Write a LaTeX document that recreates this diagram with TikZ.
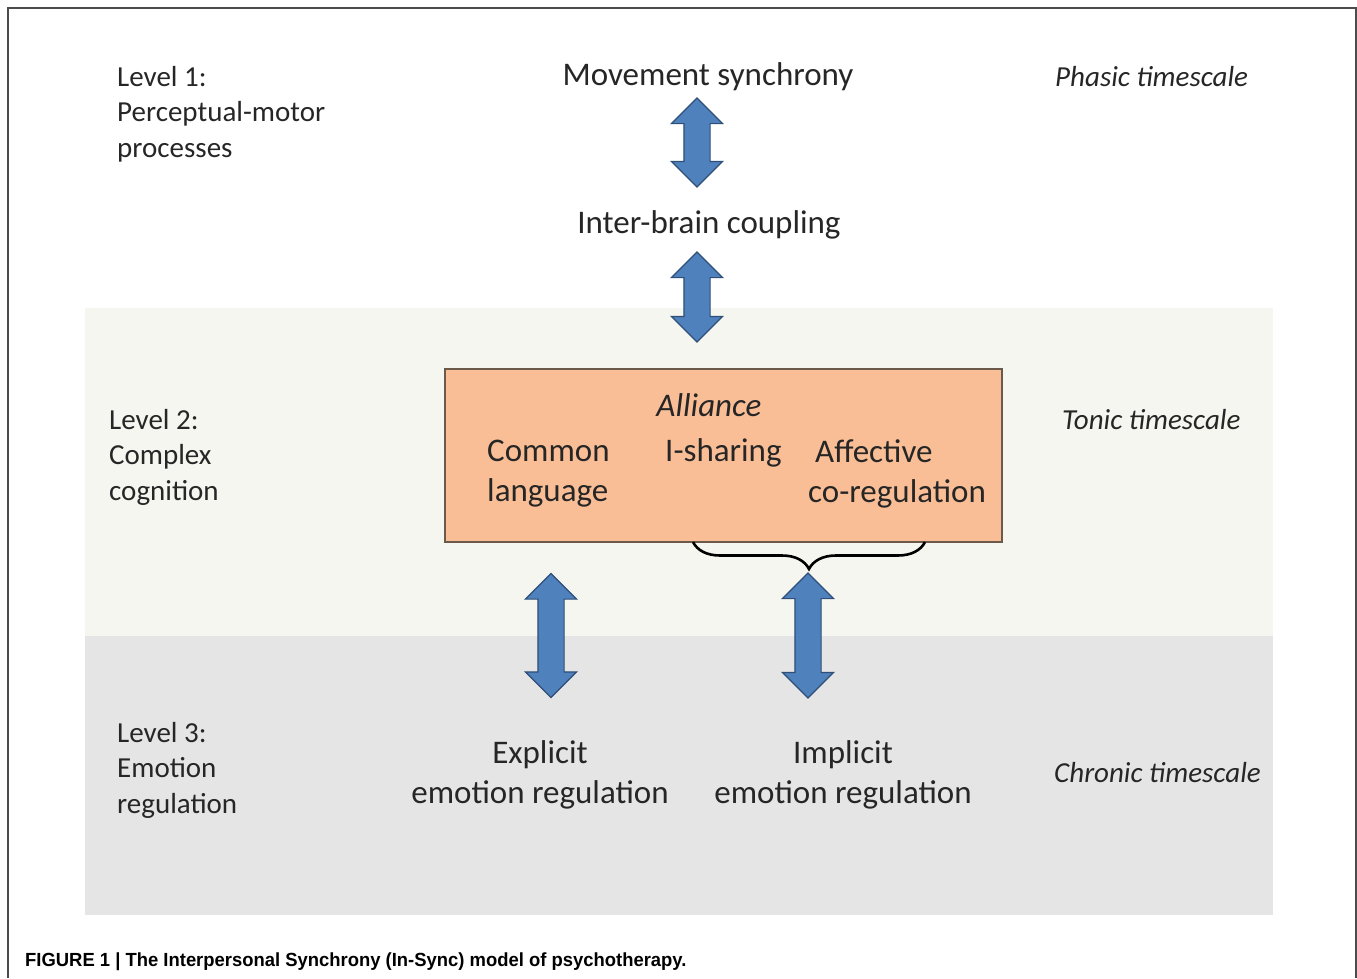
\documentclass[tikz,border=0pt]{standalone}
\usepackage{fontspec}
\setmainfont{Carlito}
\newfontfamily\capfont{Liberation Sans}
\usetikzlibrary{shapes.arrows}
\usetikzlibrary{decorations.pathreplacing}

\definecolor{arrowblue}{HTML}{4F81BD}
\definecolor{arrowedge}{HTML}{2F4F78}
\definecolor{peach}{HTML}{F9BE95}
\definecolor{peachedge}{HTML}{6B5A4C}
\definecolor{bandtwo}{HTML}{F6F6F0}
\definecolor{bandthree}{HTML}{E5E5E5}

\begin{document}
\begin{tikzpicture}[x=1pt, y=-1pt]
  \tikzstyle{label}=[
      inner sep = 0pt, font = \fontsize{29}{35.5}\selectfont
    , text = black!85
    ]
  \tikzstyle{biglabel}=[label, font = \fontsize{33}{40}\selectfont]
  \tikzstyle{level}=[label, anchor = west, align = left]
  \tikzstyle{timescale}=[label, anchor = west, font = \fontsize{29}{35.5}\selectfont\itshape]
  \tikzstyle{dblarrow}=[
      double arrow, shape border rotate = 90
    , double arrow head extend = 12.5pt
    , inner sep = 12.5pt, fill = arrowblue, draw = arrowedge, line width = 1.2pt
    ]
  \tikzstyle{alliancebox}=[
      rectangle, minimum width = 557pt, minimum height = 173pt
    , fill = peach, draw = peachedge, line width = 1.2pt
    ]

  \useasboundingbox (0,0) rectangle (1357,978);

  % frame and bands
  \draw[black!70, line width = 1.2pt] (8,978) -- (8,8) -- (1356,8) -- (1356,978);
  \fill[bandtwo] (85,308) rectangle (1273,636);
  \fill[bandthree] (85,636) rectangle (1273,915);

  % level 1
  \node[level] (lvl1) at (117,114) {Level 1:\\Perceptual-motor\\processes};
  \node[biglabel] (move) at (708,77) {Movement synchrony};
  \node[biglabel] (brain) at (709,225) {Inter-brain coupling};
  \node[timescale] (phasic) at (1055,77) {Phasic timescale};

  % level 2
  \node[level] (lvl2) at (109,457) {Level 2:\\Complex\\cognition};
  \node[alliancebox] (box) at (723.5,455.5) {};
  \node[biglabel, font = \fontsize{33}{40}\selectfont\itshape] (alliance) at (709,405) {Alliance};
  \node[biglabel, anchor = west, align = left] (common) at (487,473.5) {Common\\language};
  \node[biglabel, anchor = west] (ishare) at (665,453) {I-sharing};
  \node[biglabel, anchor = west, align = left] (affect) at (808,473.5) {\hspace*{7pt}Affective\\co-regulation};
  \node[timescale] (tonic) at (1062,420) {Tonic timescale};

  % level 3
  \node[level] (lvl3) at (117,770) {Level 3:\\Emotion\\regulation};
  \node[biglabel, align = center] (explicit) at (540,775) {Explicit\\emotion regulation};
  \node[biglabel, align = center] (implicit) at (843,775) {Implicit\\emotion regulation};
  \node[timescale] (chronic) at (1054,773) {Chronic timescale};

  % arrows
  \node[dblarrow, minimum height = 89pt] (a1) at (697,142.5) {};
  \node[dblarrow, minimum height = 90pt] (a2) at (697,297) {};
  \node[dblarrow, minimum height = 124pt] (a3) at (551,635.5) {};
  \node[dblarrow, minimum height = 125pt] (a4) at (808,635.5) {};

  \draw[line width = 2.6pt, decorate, decoration = {brace, amplitude = 27pt, mirror}]
    (693,542) -- (925,542);

  % caption
  \node[anchor = west, inner sep = 0pt] (caption) at (25,962)
    {\scalebox{0.97}[1]{\capfont\bfseries\fontsize{19}{22}\selectfont FIGURE 1 | The Interpersonal Synchrony (In-Sync) model of psychotherapy.}};

\end{tikzpicture}
\end{document}
